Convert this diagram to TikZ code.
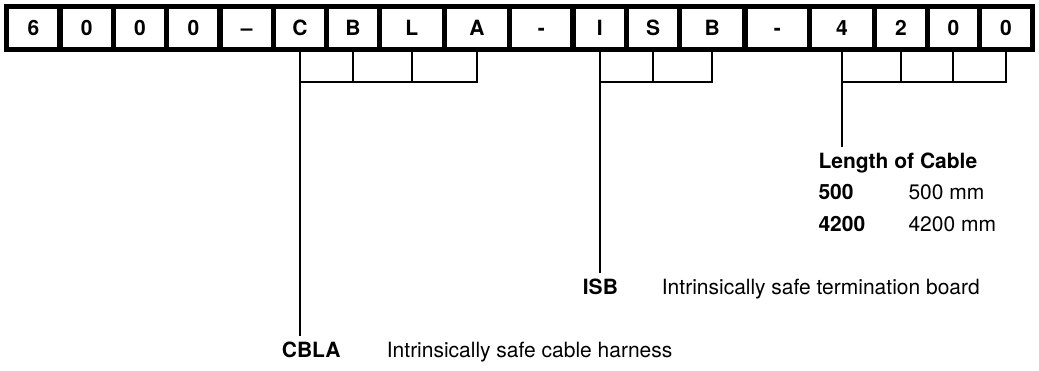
\documentclass[tikz,border=0pt]{standalone}
\usepackage{fontspec}
\setmainfont{TeX Gyre Heros}
\usetikzlibrary{positioning}

\begin{document}
\begin{tikzpicture}[x=1pt,y=-1pt,
cell/.style={draw,line width=5.3pt,fill=white,inner sep=0pt,outer sep=0pt,minimum height=42.8pt,text height=15pt,text depth=0pt,font=\fontsize{21}{24}\selectfont\bfseries},
tick/.style={line width=2pt},
code/.style={inner xsep=0pt,inner ysep=6pt,anchor=base west,font=\fontsize{21}{24}\selectfont\bfseries},
desc/.style={inner xsep=0pt,inner ysep=6pt,anchor=base west,font=\fontsize{21}{24}\selectfont}]

\useasboundingbox (0,0) rectangle (1039,371);

\foreach \i/\t/\a/\b in {0/6/6.7/60, 1/0/60/113.3, 2/0/113.3/166.7, 3/0/166.7/220, 4/–/220/273.3, 5/C/273.3/326.5, 6/B/326.5/379.5, 7/L/379.5/444.2, 8/A/444.2/509.5, 9/-/509.5/573, 10/I/573/626.7, 11/S/626.7/679.5, 12/B/679.5/745, 13/-/745/809.7, 14/4/809.7/874.2, 15/2/874.2/927.5, 16/0/927.5/979.2, 17/0/979.2/1032.8}
  \node[cell,minimum width={(\b-\a)*1pt}] (c\i) at ({(\a+\b)/2},28.1) {\t};

\node[code] (len) at (818.3,168.3) {Length of Cable};
\node[code] (l500) at (818.3,199.3) {500};
\node[desc] (l500d) at (908.3,199.3) {500 mm};
\node[code] (l4200) at (818.3,231.7) {4200};
\node[desc] (l4200d) at (908.3,231.7) {4200 mm};
\node[code] (isb) at (582.7,295) {ISB};
\node[desc] (isbd) at (661.7,295) {Intrinsically safe termination board};
\node[code] (cbla) at (281.7,357.3) {CBLA};
\node[desc] (cblad) at (386.7,357.3) {Intrinsically safe cable harness};

\coordinate (bar) at (0,81.7);

% CBLA
\draw[tick] (c5.south) -- (c5.south |- bar) -- (c8.south |- bar) -- (c8.south);
\foreach \i in {6,7} \draw[tick] (c\i.south) -- (c\i.south |- bar);
\draw[tick] (c5.south |- bar) -- (c5.south |- cbla.north);

% ISB
\draw[tick] (c10.south) -- (c10.south |- bar) -- (c12.south |- bar) -- (c12.south);
\draw[tick] (c11.south) -- (c11.south |- bar);
\draw[tick] (c10.south |- bar) -- (c10.south |- isb.north);

% length
\draw[tick] (c14.south) -- (c14.south |- bar) -- (c17.south |- bar) -- (c17.south);
\foreach \i in {15,16} \draw[tick] (c\i.south) -- (c\i.south |- bar);
\draw[tick] (c14.south |- bar) -- (c14.south |- len.north);
\end{tikzpicture}
\end{document}
